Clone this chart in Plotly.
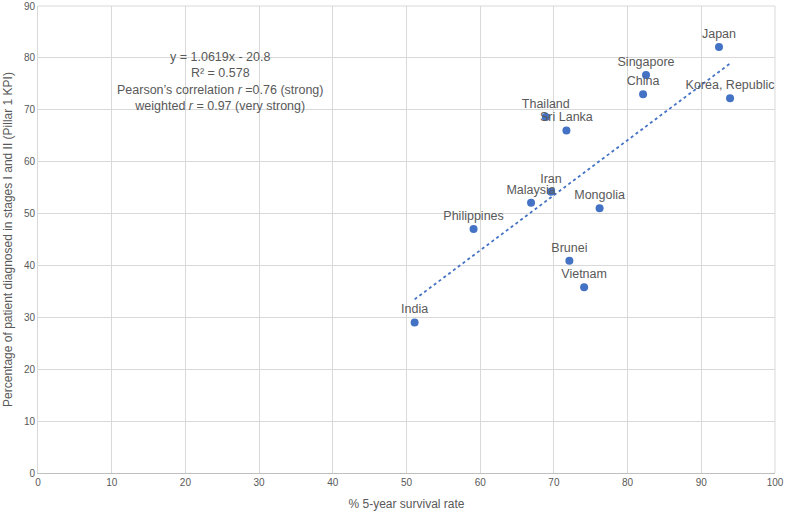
import plotly.graph_objects as go

countries = ["Japan", "Singapore", "China", "Korea, Republic", "Thailand", "Sri Lanka",
             "Iran", "Malaysia", "Mongolia", "Philippines", "Brunei", "Vietnam", "India"]
survival = [92.4, 82.5, 82.1, 93.9, 68.9, 71.7, 69.6, 66.9, 76.2, 59.1, 72.1, 74.1, 51.1]
early_stage = [82.1, 76.7, 73.0, 72.2, 68.6, 66.0, 54.2, 52.1, 51.0, 47.0, 40.9, 35.8, 29.0]

slope = 1.0619
intercept = -20.8
x_ticks = list(range(0, 101, 10))
y_ticks = list(range(0, 91, 10))

FONT = "Liberation Sans, Arial, sans-serif"
GRAY = "#595959"
BLUE = "#4472C4"

xmin, xmax = min(survival), max(survival)
fig = go.Figure()
fig.add_trace(go.Scatter(
    x=[xmin, xmax], y=[slope * xmin + intercept, slope * xmax + intercept],
    mode="lines", line=dict(color=BLUE, width=1.8, dash="dot"),
    hoverinfo="skip", showlegend=False))
fig.add_trace(go.Scatter(
    x=survival, y=early_stage, mode="markers+text", text=countries,
    textposition="top center", cliponaxis=False,
    textfont=dict(family=FONT, size=12.5, color=GRAY),
    marker=dict(color=BLUE, size=8), showlegend=False))

fig.add_annotation(
    x=24.7, y=75.5, xref="x", yref="y", showarrow=False, align="center",
    text="y = 1.0619x - 20.8<br>R² = 0.578<br>Pearson’s correlation <i>r</i> =0.76 (strong)<br>weighted <i>r</i> = 0.97 (very strong)",
    font=dict(family=FONT, size=12.5, color=GRAY))

fig.update_layout(
    width=785, height=512,
    margin=dict(l=38, r=10, t=6, b=39, autoexpand=False),
    plot_bgcolor="white", paper_bgcolor="white",
    font=dict(family=FONT, color=GRAY),
    xaxis=dict(range=[0, 100], tickvals=x_ticks, showgrid=True, gridcolor="#d9d9d9",
               gridwidth=1, zeroline=False, showline=True, linecolor="#bfbfbf",
               automargin=False,
               tickfont=dict(size=10, color=GRAY, family=FONT), ticks="",
               title=dict(text="% 5-year survival rate", font=dict(size=12, color=GRAY, family=FONT), standoff=12)),
    yaxis=dict(range=[0, 90], tickvals=y_ticks, showgrid=True, gridcolor="#d9d9d9",
               gridwidth=1, zeroline=False, showline=True, linecolor="#d9d9d9",
               automargin=False,
               tickfont=dict(size=10, color=GRAY, family=FONT), ticks="",
               title=dict(text="Percentage of patient diagnosed in stages I and II (Pillar 1 KPI)",
                          font=dict(size=12, color=GRAY, family=FONT), standoff=8)),
)
fig.add_shape(type="line", xref="paper", yref="paper", x0=0, x1=1, y0=1, y1=1,
              line=dict(color="#d9d9d9", width=1))
fig.add_shape(type="line", xref="paper", yref="paper", x0=1, x1=1, y0=0, y1=1,
              line=dict(color="#d9d9d9", width=1))

fig.write_html("out.html", config={"displayModeBar": False},
               post_script="document.body.style.margin='0';")
